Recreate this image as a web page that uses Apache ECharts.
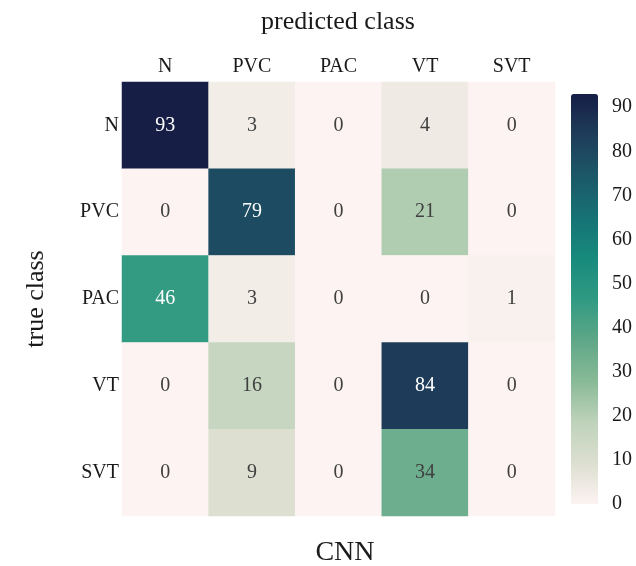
<!DOCTYPE html>
<html>
<head>
<meta charset="utf-8">
<script src="https://cdn.jsdelivr.net/npm/echarts@6/dist/echarts.min.js"></script>
<style>
  html, body { margin: 0; padding: 0; background: #fff; }
  #chart { width: 636px; height: 566px; }
</style>
</head>
<body>
<div id="chart"></div>
<script>
// Class labels for both axes of the confusion matrix
const predictedClasses = ['N', 'PVC', 'PAC', 'VT', 'SVT'];
const trueClasses = ['N', 'PVC', 'PAC', 'VT', 'SVT'];

// One row per true class, columns follow predictedClasses
const rowN   = [93, 3, 0, 4, 0];
const rowPVC = [0, 79, 0, 21, 0];
const rowPAC = [46, 3, 0, 0, 1];
const rowVT  = [0, 16, 0, 84, 0];
const rowSVT = [0, 9, 0, 34, 0];
const matrixRows = [rowN, rowPVC, rowPAC, rowVT, rowSVT];

// Colour scale range and colorbar tick step
const scaleMin = 0;
const scaleMax = 93;
const colorbarStep = 10;

const SERIF = '"Liberation Serif", "DejaVu Serif", serif';

// Sequential palette, light pink through green to deep navy
const palette = [
  '#fdf3f2', '#dcdfd0', '#bed2ba', '#88ba97', '#5ea787',
  '#2f9a82', '#178a7d', '#167274', '#1c5868', '#1e3d5b', '#161e45'
];

const cells = [];
matrixRows.forEach((row, r) => {
  row.forEach((v, c) => {
    cells.push({
      value: [c, r, v],
      label: { color: v > 45 ? '#ffffff' : '#404040' }
    });
  });
});

const chart = echarts.init(document.getElementById('chart'), null, { renderer: 'canvas' });

chart.setOption({
  animation: false,
  backgroundColor: '#ffffff',
  textStyle: { fontFamily: SERIF },
  grid: [
    { left: 122, top: 82, width: 433, height: 434 },
    { left: 571, top: 94, width: 27, height: 410 }
  ],
  xAxis: [
    {
      type: 'category',
      gridIndex: 0,
      data: predictedClasses,
      position: 'top',
      axisLine: { show: false },
      axisTick: { show: false },
      splitLine: { show: false },
      axisLabel: { fontFamily: SERIF, fontSize: 20, color: '#1a1a1a', margin: 5 }
    },
    {
      type: 'value',
      gridIndex: 1,
      show: false
    }
  ],
  yAxis: [
    {
      type: 'category',
      gridIndex: 0,
      data: trueClasses,
      inverse: true,
      axisLine: { show: false },
      axisTick: { show: false },
      splitLine: { show: false },
      axisLabel: { fontFamily: SERIF, fontSize: 20, color: '#1a1a1a', margin: 3 }
    },
    {
      type: 'value',
      gridIndex: 1,
      position: 'right',
      min: scaleMin,
      max: scaleMax,
      interval: colorbarStep,
      axisLine: { show: false },
      axisTick: { show: false },
      splitLine: { show: false },
      axisLabel: {
        fontFamily: SERIF, fontSize: 20, color: '#1a1a1a', margin: 14,
        showMaxLabel: false
      }
    }
  ],
  visualMap: {
    type: 'continuous',
    seriesIndex: 0,
    min: scaleMin,
    max: scaleMax,
    calculable: false,
    hoverLink: false,
    left: 571,
    top: 94,
    padding: 0,
    itemWidth: 27,
    itemHeight: 410,
    inRange: { color: palette }
  },
  graphic: [
    {
      type: 'text',
      x: 338, y: 22,
      style: {
        text: 'predicted class', font: '26px ' + SERIF, fill: '#1a1a1a',
        align: 'center', verticalAlign: 'middle'
      }
    },
    {
      type: 'text',
      x: 36, y: 299,
      rotation: Math.PI / 2,
      style: {
        text: 'true class', font: '26px ' + SERIF, fill: '#1a1a1a',
        align: 'center', verticalAlign: 'middle'
      }
    },
    {
      type: 'text',
      x: 345, y: 553,
      style: {
        text: 'CNN', font: '28px ' + SERIF, fill: '#1a1a1a',
        align: 'center', verticalAlign: 'middle'
      }
    }
  ],
  series: [
    {
      type: 'heatmap',
      xAxisIndex: 0,
      yAxisIndex: 0,
      data: cells,
      label: {
        show: true,
        fontFamily: SERIF,
        fontSize: 20,
        formatter: p => String(p.value[2])
      },
      emphasis: { disabled: true },
      itemStyle: { borderWidth: 0 }
    }
  ]
});
</script>
</body>
</html>
